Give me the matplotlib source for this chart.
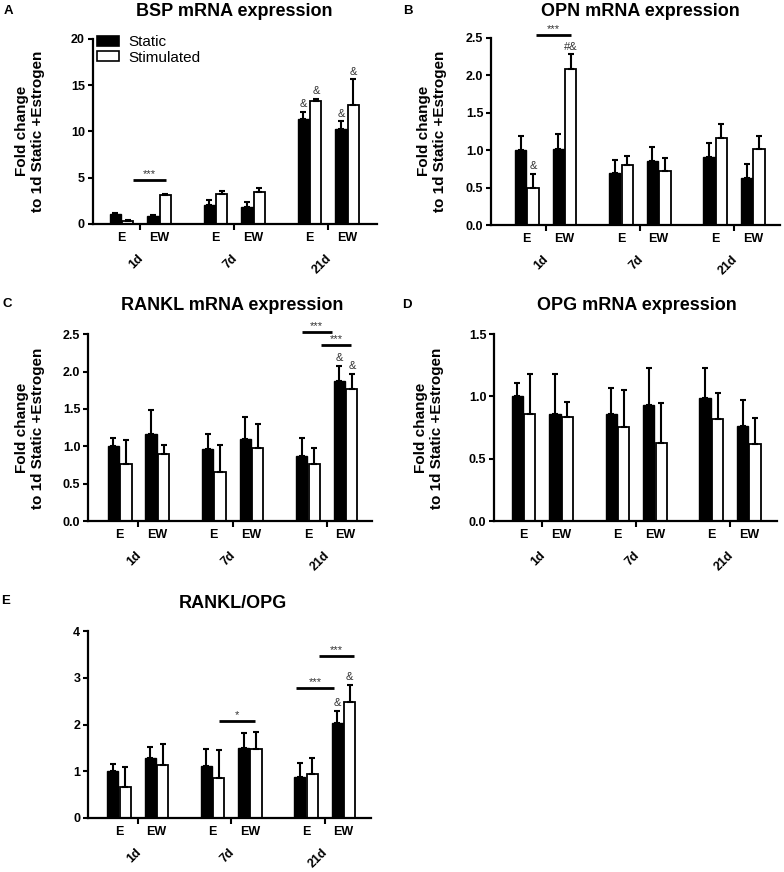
import matplotlib
matplotlib.use("Agg")
import matplotlib.pyplot as plt
from matplotlib.patches import Patch
import numpy as np

plt.rcParams['font.family'] = ['Liberation Sans', 'DejaVu Sans']

# ---------------- data ----------------
days = ["1d", "7d", "21d"]
groups = ["E", "EW", "E", "EW", "E", "EW"]
series_names = ["Static", "Stimulated"]

bsp_static = [1.05, 0.86, 2.01, 1.83, 11.29, 10.22]
bsp_static_err = [0.17, 0.07, 0.58, 0.58, 0.83, 0.86]
bsp_stim = [0.32, 3.09, 3.20, 3.49, 13.31, 12.88]
bsp_stim_err = [0.08, 0.11, 0.36, 0.43, 0.18, 2.73]

opn_static = [1.00, 1.02, 0.69, 0.86, 0.91, 0.63]
opn_static_err = [0.19, 0.19, 0.18, 0.18, 0.19, 0.19]
opn_stim = [0.50, 2.09, 0.805, 0.717, 1.16, 1.013]
opn_stim_err = [0.18, 0.19, 0.12, 0.18, 0.19, 0.18]

rankl_static = [1.01, 1.165, 0.97, 1.10, 0.866, 1.87]
rankl_static_err = [0.10, 0.32, 0.20, 0.29, 0.24, 0.21]
rankl_stim = [0.763, 0.893, 0.66, 0.973, 0.768, 1.763]
rankl_stim_err = [0.32, 0.12, 0.36, 0.32, 0.21, 0.21]

opg_static = [1.006, 0.859, 0.862, 0.934, 0.99, 0.76]
opg_static_err = [0.104, 0.318, 0.206, 0.294, 0.238, 0.209]
opg_stim = [0.856, 0.835, 0.757, 0.629, 0.816, 0.618]
opg_stim_err = [0.321, 0.123, 0.297, 0.321, 0.214, 0.209]

ratio_static = [0.995, 1.288, 1.11, 1.496, 0.866, 2.04]
ratio_static_err = [0.15, 0.23, 0.37, 0.33, 0.31, 0.26]
ratio_stim = [0.651, 1.124, 0.859, 1.475, 0.93, 2.477]
ratio_stim_err = [0.437, 0.465, 0.587, 0.365, 0.36, 0.379]

# marks above bars: (series 0=static/1=stim, index, text)
bsp_marks = [(0, 4, "&"), (1, 4, "&"), (0, 5, "&"), (1, 5, "&")]
opn_marks = [(1, 0, "&"), (1, 1, "#&")]
rankl_marks = [(0, 5, "&"), (1, 5, "&")]
opg_marks = []
ratio_marks = [(0, 5, "&"), (1, 5, "&")]

# significance bars: (x start, x end, y, text)
bsp_sig = [(0.31, 1.18, 4.78, "***")]
opn_sig = [(0.25, 1.16, 2.54, "***")]
rankl_sig = [(4.84, 5.63, 2.535, "***"), (5.35, 6.14, 2.357, "***")]
opg_sig = []
ratio_sig = [(2.68, 3.64, 2.076, "*"), (4.74, 5.74, 2.785, "***"), (5.36, 6.28, 3.48, "***")]

# ---------------- layout ----------------
W, H = 784, 872
fig = plt.figure(figsize=(W / 100, H / 100), dpi=100)

xpos = np.array([0, 1, 2.5, 3.5, 5, 6])
seps = [0.5, 3.0, 5.5]
off = 0.165
bw = 0.30


def make_ax(L, R, T, B, xlim):
    ax = fig.add_axes([L / W, 1 - B / H, (R - L) / W, (B - T) / H])
    ax.set_xlim(*xlim)
    return ax


def draw(ax, st, st_e, sm, sm_e, ymax, yticks, yfmt, marks, sig, title, letter,
         title_xy, letter_xy, ylabel_xy=None, legend=False):
    ax.bar(xpos - off, st, bw, color="black", edgecolor="black", linewidth=1.0, zorder=2)
    ax.bar(xpos + off, sm, bw, color="white", edgecolor="black", linewidth=1.3, zorder=2)
    ax.errorbar(xpos - off, st, yerr=[np.zeros(6), st_e], fmt="none", ecolor="black",
                elinewidth=1.5, capsize=2.5, capthick=1.5, zorder=3)
    ax.errorbar(xpos + off, sm, yerr=[np.zeros(6), sm_e], fmt="none", ecolor="black",
                elinewidth=1.5, capsize=2.5, capthick=1.5, zorder=3)
    ax.set_ylim(0, ymax)
    ax.set_yticks(yticks)
    ax.set_yticklabels([yfmt.format(v) for v in yticks], fontweight="bold", fontsize=9)
    ax.set_xticks(xpos)
    ax.set_xticklabels(groups, fontweight="bold", fontsize=9)
    ax.set_xticks(seps, minor=True)
    ax.tick_params(axis="x", which="major", length=0, pad=6)
    ax.tick_params(axis="x", which="minor", length=4.5, width=1.5, direction="out")
    ax.tick_params(axis="y", which="major", length=3.5, width=1.5, pad=2)
    for s in ["top", "right"]:
        ax.spines[s].set_visible(False)
    for s in ["left", "bottom"]:
        ax.spines[s].set_linewidth(1.6)
    for sx, d in zip(seps, days):
        ax.annotate(d, xy=(sx, 0), xycoords=("data", "axes fraction"),
                    xytext=(4, -20.5), textcoords="offset points",
                    rotation=45, ha="right", va="top", fontsize=9, fontweight="bold")
    vals = [st, sm]
    errs = [st_e, sm_e]
    for sidx, i, t in marks:
        xx = xpos[i] + (off if sidx == 1 else -off)
        yy = vals[sidx][i] + errs[sidx][i]
        ax.annotate(t, xy=(xx, yy), xytext=(0, 2), textcoords="offset points",
                    ha="center", va="bottom", fontsize=8, color="#333333")
    for x0, x1, yy, t in sig:
        ax.plot([x0, x1], [yy, yy], color="black", lw=2.0, clip_on=False, zorder=4,
                solid_capstyle="butt")
        ax.annotate(t, xy=((x0 + x1) / 2, yy), xytext=(0, 0.5), textcoords="offset points",
                    ha="center", va="bottom", fontsize=8, color="#333333",
                    annotation_clip=False)
    fig.text(title_xy[0] / W, 1 - title_xy[1] / H, title, ha="center", va="center",
             fontsize=13, fontweight="bold")
    fig.text(letter_xy[0] / W, 1 - letter_xy[1] / H, letter, ha="center", va="center",
             fontsize=9.5, fontweight="bold")
    if ylabel_xy is not None:
        fig.text(ylabel_xy[0] / W, 1 - ylabel_xy[1] / H,
                 "Fold change\nto 1d Static +Estrogen", rotation=90, ha="center",
                 va="center", fontsize=11, fontweight="bold", multialignment="center",
                 linespacing=1.1)
    if legend:
        handles = [Patch(facecolor="black", edgecolor="black", linewidth=1.2),
                   Patch(facecolor="white", edgecolor="black", linewidth=1.2)]
        ax.legend(handles, series_names, loc="upper left", bbox_to_anchor=(0.015, 1.02),
                  frameon=False, fontsize=11, handlelength=1.45, handleheight=0.62,
                  handletextpad=0.65, labelspacing=0.1, borderpad=0, borderaxespad=0)


axA = make_ax(92.5, 377, 38.7, 224, (-0.77, 6.79))
draw(axA, bsp_static, bsp_static_err, bsp_stim, bsp_stim_err, 20, [0, 5, 10, 15, 20], "{:.0f}",
     bsp_marks, bsp_sig, "BSP mRNA expression", "A", (234, 11), (8, 11), (30, 131), legend=True)

axB = make_ax(491, 780, 38, 225, (-0.95, 6.72))
draw(axB, opn_static, opn_static_err, opn_stim, opn_stim_err, 2.5, [0, 0.5, 1.0, 1.5, 2.0, 2.5],
     "{:.1f}", opn_marks, opn_sig, "OPN mRNA expression", "B", (640, 11), (408, 11), (432, 131))

axC = make_ax(88, 372, 334.3, 521, (-0.84, 6.70))
draw(axC, rankl_static, rankl_static_err, rankl_stim, rankl_stim_err, 2.5,
     [0, 0.5, 1.0, 1.5, 2.0, 2.5], "{:.1f}", rankl_marks, rankl_sig, "RANKL mRNA expression",
     "C", (232.5, 305), (7, 304), (30, 428))

axD = make_ax(494, 777, 334, 521, (-0.79, 6.75))
draw(axD, opg_static, opg_static_err, opg_stim, opg_stim_err, 1.5, [0, 0.5, 1.0, 1.5], "{:.1f}",
     opg_marks, opg_sig, "OPG mRNA expression", "D", (637, 305), (407, 305), (429, 428))

axE = make_ax(88, 371, 631.4, 817.7, (-0.83, 6.74))
draw(axE, ratio_static, ratio_static_err, ratio_stim, ratio_stim_err, 4, [0, 1, 2, 3, 4], "{:.0f}",
     ratio_marks, ratio_sig, "RANKL/OPG", "E", (232.5, 603.5), (6, 601))

fig.savefig("out.png", dpi=100)
